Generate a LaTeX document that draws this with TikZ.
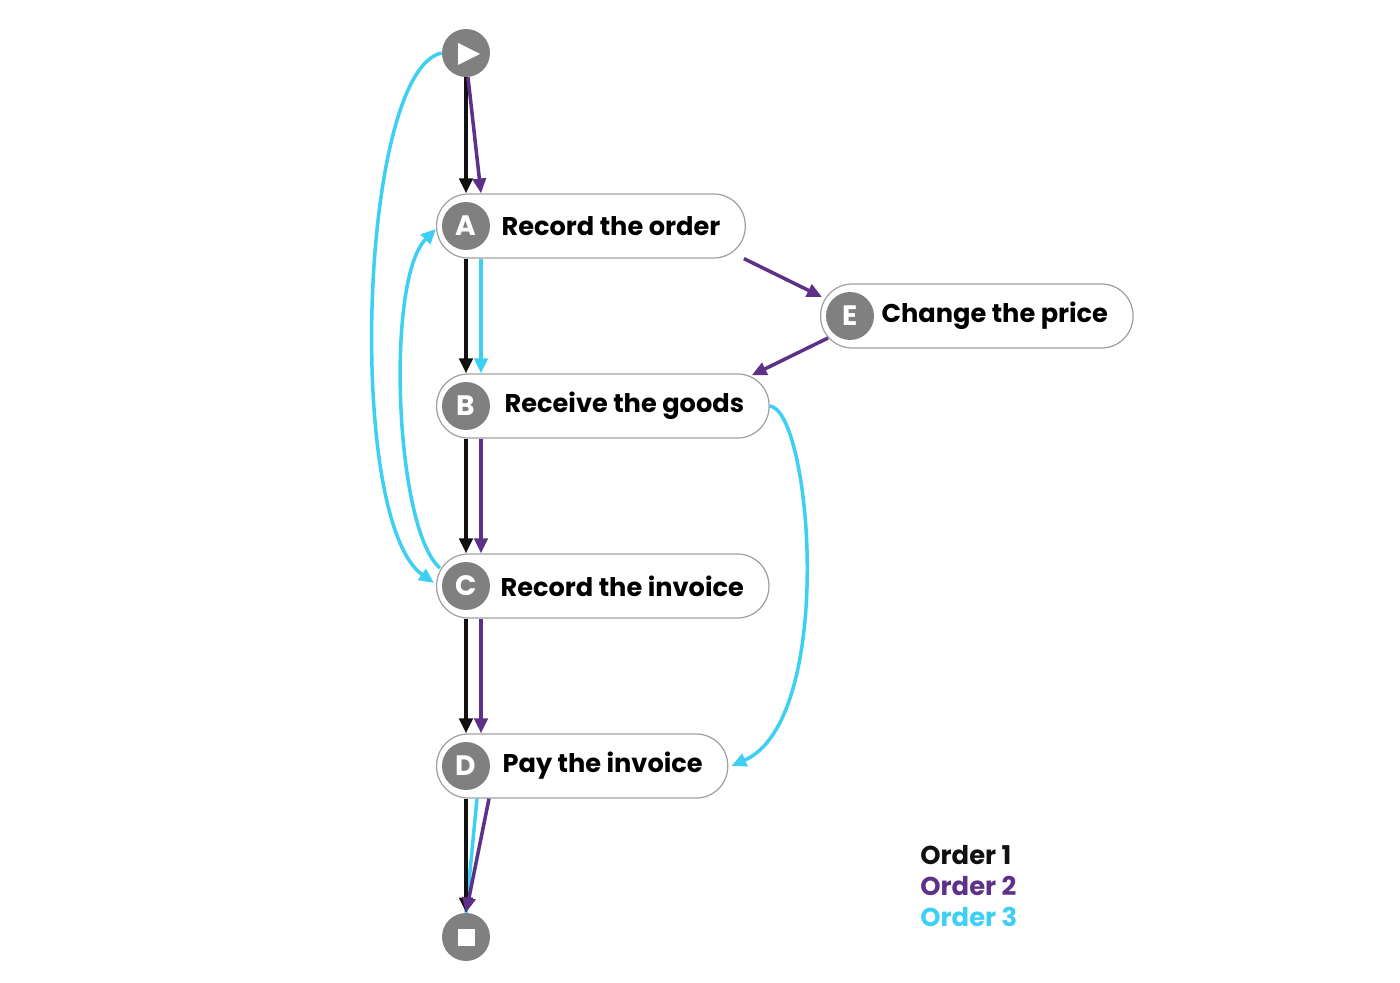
\documentclass[tikz,border=0pt]{standalone}
\usepackage{fontspec}
\setmainfont{Poppins}
\usetikzlibrary{arrows.meta,positioning}

\definecolor{ordone}{HTML}{111111}
\definecolor{ordtwo}{HTML}{5E3189}
\definecolor{ordthree}{HTML}{3DD0F2}
\definecolor{badgegray}{HTML}{808080}
\definecolor{pillgray}{HTML}{A0A0A0}

\tikzset{
  pill/.style={draw=pillgray, line width=0.7pt, fill=white, rounded corners=0.63cm,
    minimum height=1.28cm, inner xsep=0.5cm, anchor=west,
    font=\fontsize{14.6}{17}\selectfont\bfseries},
  badge/.style={circle, fill=badgegray, minimum size=0.96cm, inner sep=0pt,
    text=white, font=\fontsize{16}{17}\selectfont\bfseries},
  flow/.style={line width=2pt, -{Triangle[length=8.5pt,width=7.5pt]}},
  legend/.style={anchor=west, inner sep=0pt, font=\fontsize{14.7}{17}\selectfont\bfseries},
}

\begin{document}
\begin{tikzpicture}[x=0.02cm, y=-0.02cm]

    \useasboundingbox (0,0) rectangle (1400,983);

    % activities
    \node[pill] (A) at (436,226) {\hspace*{0.8cm}Record the order};
    \node[pill] (B) at (436,406) {\hspace*{0.86cm}Receive the goods};
    \node[pill] (C) at (436,586) {\hspace*{0.78cm}Record the invoice};
    \node[pill] (D) at (436,766) {\hspace*{0.82cm}Pay the invoice};
    \node[pill] (E) at (820,316) {\hspace*{0.72cm}Change the price};

    \node[badge] (a) at ([shift={(30,0)}]A.west) {A};
    \node[badge] (b) at ([shift={(30,0)}]B.west) {B};
    \node[badge] (c) at ([shift={(30,0)}]C.west) {C};
    \node[badge] (d) at ([shift={(30,0)}]D.west) {D};
    \node[badge] (e) at ([shift={(30,0)}]E.west) {E};

    % start and end
    \node[badge] (start) at (466,53) {};
    \fill[white] ([shift={(-8,-10)}]start.center) -- ([shift={(14,1)}]start.center)
        -- ([shift={(-8,12)}]start.center) -- cycle;
    \node[badge] (stop) at (466,937) {};
    \fill[white] ([shift={(-8,-8)}]stop.center) rectangle ([shift={(9,9)}]stop.center);

    % order 3
    \draw[flow, ordthree] (start.west) .. controls +(-82,17) and +(-89,-63) .. ([shift={(-2,-3)}]C.west);
    \draw[flow, ordthree] ([shift={(4,-18)}]C.west) .. controls +(-45,-38) and +(-51,50) .. ([shift={(0,3)}]A.west);
    \draw[flow, ordthree] ([shift={(45,0)}]A.south west) -- ([shift={(45,0)}]B.north west);
    \draw[flow, ordthree] (B.east) .. controls +(42,4) and +(105,-46) .. ([shift={(3,0)}]D.east);
    \draw[line width=2pt, ordthree] ([shift={(41,0)}]D.south west) -- (stop.north);

    % order 1
    \draw[flow, ordone] (start.south) -- ([shift={(30,0)}]A.north west);
    \foreach \u/\v in {A/B,B/C,C/D}
    \draw[flow, ordone] ([shift={(30,0)}]\u.south west) -- ([shift={(30,0)}]\v.north west);
    \draw[flow, ordone] ([shift={(30,0)}]D.south west) -- (stop.north);

    % order 2
    \draw[flow, ordtwo] ([shift={(2,0)}]start.south) -- ([shift={(45,0)}]A.north west);
    \draw[flow, ordtwo] ([shift={(-2,0)}]A.south east) -- ([shift={(2,-19)}]E.west);
    \draw[flow, ordtwo] ([shift={(8,22)}]E.west) -- ([shift={(-18,2)}]B.north east);
    \foreach \u/\v in {B/C,C/D}
    \draw[flow, ordtwo] ([shift={(45,0)}]\u.south west) -- ([shift={(45,0)}]\v.north west);
    \draw[flow, ordtwo] ([shift={(53,0)}]D.south west) -- (stop.north);

    % legend
    \node[legend, text=ordone] (o1) at (920,855) {Order 1};
    \node[legend, text=ordtwo, below=0.22cm of o1.south west, anchor=north west] (o2) {Order 2};
    \node[legend, text=ordthree, below=0.22cm of o2.south west, anchor=north west] (o3) {Order 3};

\end{tikzpicture}
\end{document}
